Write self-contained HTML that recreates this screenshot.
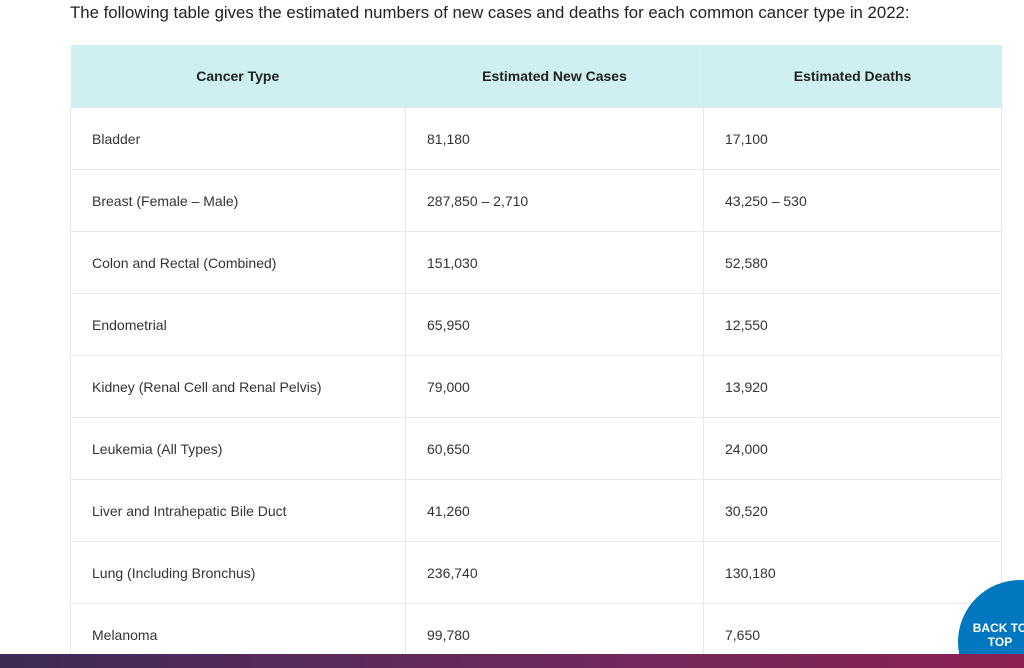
<!DOCTYPE html>
<html><head><meta charset="utf-8"><style>
html,body{margin:0;width:1024px;height:668px;overflow:hidden}
body{background:#fff;font-family:"Liberation Sans",sans-serif;color:#222;position:relative}
#wrap{position:absolute;left:0;top:0;width:1024px;height:668px;overflow:hidden}
.intro{position:absolute;left:70px;top:3px;font-size:16.8px;color:#222;margin:0;white-space:nowrap}
table{position:absolute;left:70px;top:45px;width:931px;border-collapse:collapse;font-size:14px;table-layout:fixed}
th{background:#cff0f1;height:62px;font-weight:bold;text-align:center;border-right:1px solid #e4e4e4;padding:0}
td{height:61px;padding:0 0 0 21px;border:1px solid #e8e8e8;color:#333}
.bar{position:absolute;left:0;top:654px;width:1024px;height:14px;background:linear-gradient(90deg,#3c2b55,#6a2a5c 50%,#8a2252);z-index:2}
.btt{position:absolute;left:958px;top:580px;width:66px;height:74px;z-index:1}
</style></head><body><div id="wrap">
<p class="intro">The following table gives the estimated numbers of new cases and deaths for each common cancer type in 2022:</p>
<table>
<colgroup><col style="width:335px"><col style="width:298px"><col style="width:298px"></colgroup>
<tr><th>Cancer Type</th><th>Estimated New Cases</th><th>Estimated Deaths</th></tr>
<tr><td>Bladder</td><td>81,180</td><td>17,100</td></tr>
<tr><td>Breast (Female – Male)</td><td>287,850 – 2,710</td><td>43,250 – 530</td></tr>
<tr><td>Colon and Rectal (Combined)</td><td>151,030</td><td>52,580</td></tr>
<tr><td>Endometrial</td><td>65,950</td><td>12,550</td></tr>
<tr><td>Kidney (Renal Cell and Renal Pelvis)</td><td>79,000</td><td>13,920</td></tr>
<tr><td>Leukemia (All Types)</td><td>60,650</td><td>24,000</td></tr>
<tr><td>Liver and Intrahepatic Bile Duct</td><td>41,260</td><td>30,520</td></tr>
<tr><td>Lung (Including Bronchus)</td><td>236,740</td><td>130,180</td></tr>
<tr><td>Melanoma</td><td>99,780</td><td>7,650</td></tr>
</table>
<div class="bar"></div>
<svg class="btt" width="66" height="74" viewBox="0 0 66 74">
<circle cx="62" cy="62" r="62" fill="#0077bf"/>
<text x="42" y="52" fill="#fff" font-family="Liberation Sans, sans-serif" font-weight="bold" font-size="12" text-anchor="middle">BACK TO</text>
<text x="42" y="66" fill="#fff" font-family="Liberation Sans, sans-serif" font-weight="bold" font-size="12" text-anchor="middle">TOP</text>
</svg>
</div></body></html>
